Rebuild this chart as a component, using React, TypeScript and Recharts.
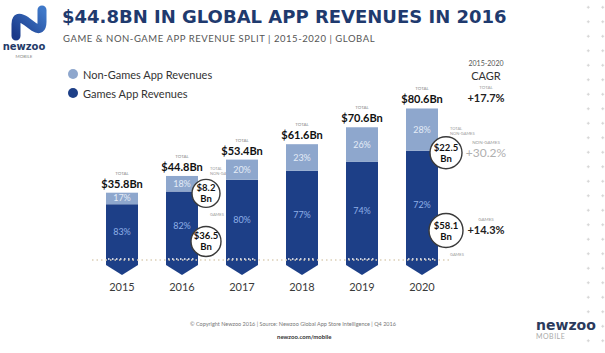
import React from 'react';
import { ComposedChart, Bar, XAxis, YAxis, ReferenceLine } from 'recharts';

// Revenue split per year, in $Bn
const years = ['2015', '2016', '2017', '2018', '2019', '2020'];
const gamesRevenue = [29.7, 36.5, 42.7, 47.4, 52.2, 58.1];
const nonGamesRevenue = [6.1, 8.2, 10.7, 14.2, 18.4, 22.5];
const gamesShare = [83, 82, 80, 77, 74, 72];
const nonGamesShare = [17, 18, 20, 23, 26, 28];
const totalLabels = ['$35.8Bn', '$44.8Bn', '$53.4Bn', '$61.6Bn', '$70.6Bn', '$80.6Bn'];
const calloutYears = ['2016', '2020'];

const cagrLabels = ['TOTAL', 'NON-GAMES', 'GAMES'];
const cagrValues = ['+17.7%', '+30.2%', '+14.3%'];

const DARK = '#1d3f87';
const LIGHT = '#8ea7cd';
const FONT = 'Lato, "Open Sans", sans-serif';

const chartData = years.map((year, i) => ({
  year,
  games: gamesRevenue[i],
  nonGames: nonGamesRevenue[i],
  gamesPct: gamesShare[i],
  nonGamesPct: nonGamesShare[i],
  total: totalLabels[i],
  callout: calloutYears.includes(year),
}));

const Callout = ({ cx, cy, r, value }: { cx: number; cy: number; r: number; value: number }) => (
  <g>
    <circle cx={cx} cy={cy} r={r} fill="#fff" stroke="#3a3a3a" strokeWidth={1.4} />
    <text x={cx} y={cy - 2} textAnchor="middle" fontSize={9.5} fontWeight={700} fill="#111" fontFamily={FONT}>
      ${value}
    </text>
    <text x={cx} y={cy + 9} textAnchor="middle" fontSize={9.5} fontWeight={700} fill="#111" fontFamily={FONT}>
      Bn
    </text>
  </g>
);

const GamesShape = (props: any) => {
  const { x, y, width, height, payload, index } = props;
  const yb = y + height;
  const cx = x + width / 2;
  const path = `M${x},${y} L${x + width},${y} L${x + width},${yb + 5} L${cx},${yb + 15} L${x},${yb + 5} Z`;
  const last = index === years.length - 1;
  const cy = y + height * 0.73;
  return (
    <g>
      <path d={path} fill={DARK} />
      <line x1={x + 2} x2={x + width - 2} y1={yb - 1} y2={yb - 1} stroke="#fff" strokeWidth={1.3} strokeDasharray="1.5 2.5" />
      <text x={cx} y={y + height / 2 + 3} textAnchor="middle" fontSize={9} fill="#8fb0e8" fontFamily={FONT}>
        {payload.gamesPct}%
      </text>
      {payload.callout && (
        <>
          <text x={x + width + 12} y={last ? cy + 25 : cy - 25} fontSize={4} fill="#999" fontFamily={FONT}>GAMES</text>
          <Callout cx={x + width + 8} cy={cy} r={last ? 17 : 15} value={payload.games} />
        </>
      )}
    </g>
  );
};

const NonGamesShape = (props: any) => {
  const { x, y, width, height, payload, index } = props;
  const cx = x + width / 2;
  const last = index === years.length - 1;
  return (
    <g>
      <rect x={x} y={y} width={width} height={height} fill={LIGHT} />
      <text x={cx} y={y + height / 2 + 3} textAnchor="middle" fontSize={9} fill="#e4ecf7" fontFamily={FONT}>
        {payload.nonGamesPct}%
      </text>
      <text x={cx} y={y - 18} textAnchor="middle" fontSize={4.5} fill="#888" fontFamily={FONT}>TOTAL</text>
      <text x={cx} y={y - 5} textAnchor="middle" fontSize={11} fontWeight={700} fill="#111" fontFamily={FONT}>
        {payload.total}
      </text>
      {payload.callout && (
        <>
          <text x={x + width + 12} y={y + height - 21} fontSize={4} fill="#999" fontFamily={FONT}>TOTAL</text>
          <text x={x + width + 12} y={y + height - 16} fontSize={4} fill="#999" fontFamily={FONT}>NON-GAMES</text>
          <Callout cx={x + width + 8} cy={y + height + 2} r={last ? 16 : 14} value={payload.nonGames} />
        </>
      )}
    </g>
  );
};

const Logo = () => (
  <svg width={50} height={60} style={{ position: 'absolute', left: 2, top: 2 }}>
    <defs>
      <linearGradient id="logoGrad" x1="0" y1="1" x2="1" y2="0">
        <stop offset="0%" stopColor="#1b3a8a" />
        <stop offset="100%" stopColor="#3f78c8" />
      </linearGradient>
    </defs>
    <path d="M14 34 L14 22 Q14 12 24 19 L32 25 Q40 30 40 20 L40 8" fill="none" stroke="url(#logoGrad)" strokeWidth={9} strokeLinecap="round" strokeLinejoin="round" />
    <text x={22} y={48} textAnchor="middle" fontSize={10} fontWeight={700} fill="#233a68" fontFamily="'DejaVu Sans', sans-serif">newzoo</text>
    <text x={22} y={56} textAnchor="middle" fontSize={4.5} fill="#888" fontFamily={FONT}>MOBILE</text>
  </svg>
);

const abs = (left: number, top: number, extra: React.CSSProperties = {}): React.CSSProperties => ({
  position: 'absolute',
  left,
  top,
  whiteSpace: 'nowrap',
  fontFamily: FONT,
  lineHeight: 1,
  ...extra,
});

export default function App() {
  return (
    <div style={{ position: 'absolute', left: 0, top: 0, width: 605, height: 353, background: '#fff', overflow: 'hidden' }}>
      <div
        style={{
          position: 'absolute',
          left: 580,
          top: 0,
          width: 25,
          height: 353,
          backgroundImage: 'radial-gradient(circle, #d4d4d4 1px, transparent 1.3px)',
          backgroundSize: '14.5px 14.5px',
          backgroundPosition: '1px 0px',
        }}
      />
      <Logo />
      <div style={abs(62, 8, { fontFamily: '"DejaVu Sans", sans-serif', fontWeight: 700, fontSize: 18, color: '#1f3a6e' })}>
        $44.8BN IN GLOBAL APP REVENUES IN 2016
      </div>
      <div style={abs(63, 34, { fontSize: 9.5, color: '#555', letterSpacing: 0.55 })}>
        GAME &amp; NON-GAME APP REVENUE SPLIT | 2015-2020 | GLOBAL
      </div>

      <div style={abs(68, 69, { width: 10, height: 10, borderRadius: 5, background: LIGHT })} />
      <div style={abs(83, 69, { fontSize: 11, color: '#333' })}>Non-Games App Revenues</div>
      <div style={abs(68, 88, { width: 10, height: 10, borderRadius: 5, background: DARK })} />
      <div style={abs(83, 88, { fontSize: 11, color: '#333' })}>Games App Revenues</div>

      <div style={abs(456, 60, { width: 60, textAlign: 'center', fontSize: 7, color: '#555' })}>2015-2020</div>
      <div style={abs(456, 70, { width: 60, textAlign: 'center', fontSize: 11, color: '#333' })}>CAGR</div>
      {cagrLabels.map((label, i) => {
        const top = [86, 141, 218][i];
        return (
          <React.Fragment key={label}>
            <div style={abs(456, top, { width: 60, textAlign: 'center', fontSize: 4.5, color: '#999' })}>{label}</div>
            <div
              style={abs(456, top + 6, {
                width: 60,
                textAlign: 'center',
                fontSize: i === 1 ? 12 : 11,
                fontWeight: i === 1 ? 400 : 700,
                color: i === 1 ? '#b0b0b0' : '#222',
              })}
            >
              {cagrValues[i]}
            </div>
          </React.Fragment>
        );
      })}

      <div style={{ position: 'absolute', left: 0, top: 0 }}>
        <ComposedChart width={605} height={353} data={chartData} margin={{ top: 72, right: 153, bottom: 63, left: 92 }}>
          <XAxis
            dataKey="year"
            axisLine={false}
            tickLine={false}
            tickMargin={17}
            tick={{ fontSize: 11, fill: '#3a3a3a', fontFamily: FONT }}
          />
          <YAxis hide domain={[0, 100]} />
          <ReferenceLine y={0} stroke="#dccfb8" strokeWidth={1.3} strokeDasharray="1.5 3" segment={[{ x: '2015', y: 0 }, { x: '2020', y: 0 }]} />
          <Bar dataKey="games" stackId="a" barSize={32} fill={DARK} shape={GamesShape} isAnimationActive={false} />
          <Bar dataKey="nonGames" stackId="a" barSize={32} fill={LIGHT} shape={NonGamesShape} isAnimationActive={false} />
        </ComposedChart>
      </div>

      <div style={abs(190, 322, { fontSize: 5.5, color: '#777' })}>
        © Copyright Newzoo 2016 | Source: Newzoo Global App Store Intelligence | Q4 2016
      </div>
      <div style={abs(277, 334, { fontSize: 6, fontWeight: 700, color: '#333' })}>newzoo.com/mobile</div>
      <div style={abs(536, 318, { fontFamily: '"DejaVu Sans", sans-serif', fontSize: 14, fontWeight: 700, color: '#2b3a5c' })}>newzoo</div>
      <div style={abs(536, 333, { fontSize: 7, color: '#aaa', letterSpacing: 0.5 })}>MOBILE</div>
    </div>
  );
}
